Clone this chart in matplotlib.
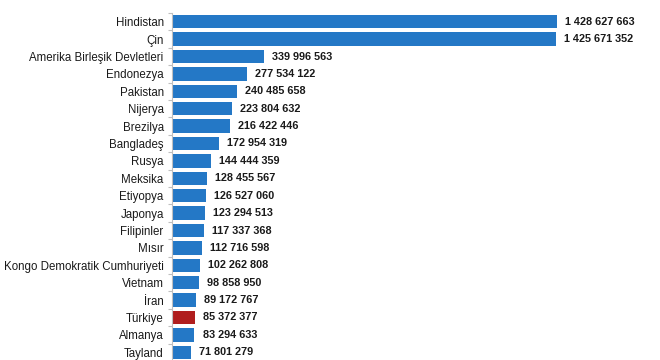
import numpy as np
import matplotlib.pyplot as plt

# Veriler: ülke nüfusları
ulkeler = ["Hindistan", "Çin", "Amerika Birleşik Devletleri", "Endonezya", "Pakistan",
           "Nijerya", "Brezilya", "Bangladeş", "Rusya", "Meksika", "Etiyopya", "Japonya",
           "Filipinler", "Mısır", "Kongo Demokratik Cumhuriyeti", "Vietnam", "İran",
           "Türkiye", "Almanya", "Tayland"]
nufus = [1428627663, 1425671352, 339996563, 277534122, 240485658,
         223804632, 216422446, 172954319, 144444359, 128455567, 126527060, 123294513,
         117337368, 112716598, 102262808, 98858950, 89172767,
         85372377, 83294633, 71801279]

MAVI = "#2478C6"
KIRMIZI = "#B01E1E"

plt.rcParams['font.family'] = ['Liberation Sans', 'DejaVu Sans']

fig = plt.figure(figsize=(6.6, 3.6), dpi=100)
# eksen: sol kenar x=172 px, satır yüksekliği ~17.4 px
ax = fig.add_axes([172 / 660, -1 / 360, 385 / 660 * 1.53 / 1.4286, 348 / 360])

y = np.arange(len(ulkeler))
renkler = [KIRMIZI if u == "Türkiye" else MAVI for u in ulkeler]
ax.barh(y, nufus, height=0.76, color=renkler)

for yi, v in zip(y, nufus):
    etiket = f"{v:,}".replace(",", " ")
    ax.text(v + 3.0e7, yi, etiket, va='center', ha='left', fontsize=7.8,
            fontweight='bold', color='#1a1a1a')

ax.set_xlim(0, 1.53e9)
ax.set_ylim(len(ulkeler) - 0.5, -0.5)
ax.set_yticks(y)
ax.set_yticklabels(ulkeler, fontsize=8.3, color='#1a1a1a')
ax.tick_params(axis='y', length=0, pad=6)
# kategori arası küçük çentikler
ax.set_yticks(np.arange(-0.5, len(ulkeler), 1), minor=True)
ax.tick_params(axis='y', which='minor', length=3, color='#bfbfbf', width=0.8)
ax.set_xticks([])
for s in ['top', 'right', 'bottom']:
    ax.spines[s].set_visible(False)
ax.spines['left'].set_color('#bfbfbf')
ax.spines['left'].set_linewidth(0.8)

fig.savefig("out.png", dpi=100)
